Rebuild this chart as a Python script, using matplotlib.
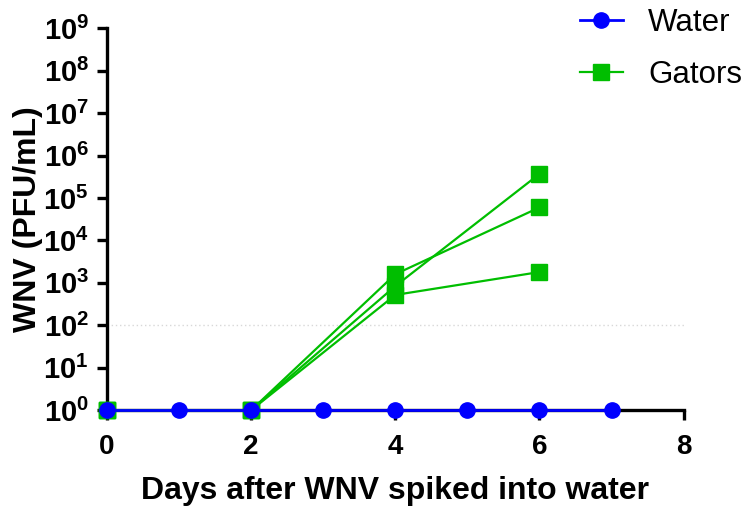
import numpy as np
import matplotlib
matplotlib.use("Agg")
import matplotlib.pyplot as plt

plt.rcParams['font.family'] = ['Liberation Sans', 'DejaVu Sans']
plt.rcParams['mathtext.fontset'] = 'custom'
plt.rcParams['mathtext.rm'] = 'Liberation Sans:bold'
plt.rcParams['mathtext.bf'] = 'Liberation Sans:bold'
plt.rcParams['mathtext.it'] = 'Liberation Sans:bold'

# data
water_days = [0, 1, 2, 3, 4, 5, 6, 7]
water_pfu = [1, 1, 1, 1, 1, 1, 1, 1]

gator_days = [0, 2, 4, 6]
gator_pfu = [
    [1, 1, 1.6e3, 6.0e4],
    [1, 1, 8.4e2, 3.7e5],
    [1, 1, 5.2e2, 1.8e3],
]
detection_limit = 1e2

blue = '#0000FF'
green = '#00BE00'

fig = plt.figure(figsize=(7.48, 5.14), dpi=100)
ax = fig.add_axes([0.143, 0.202, 0.771, 0.743])

ax.axhline(detection_limit, color='#d8d8d8', lw=1, ls=(0, (1, 2)), zorder=1)

for i, g in enumerate(gator_pfu):
    ax.plot(gator_days, g, color=green, lw=1.6, marker='s', ms=11,
            mec=green, clip_on=False, zorder=3,
            label='Gators' if i == 0 else None)
ax.plot(water_days, water_pfu, color=blue, lw=2, marker='o', ms=11,
        mec=blue, clip_on=False, zorder=4, label='Water')

ax.set_yscale('log')
ax.set_ylim(1, 1e9)
ax.set_xlim(0, 8)
ax.set_xticks([0, 2, 4, 6, 8])
ax.set_yticks([10.0**k for k in range(10)])
ax.yaxis.set_minor_locator(matplotlib.ticker.NullLocator())
ax.set_yticklabels([r'$\mathbf{10^{%d}}$' % k for k in range(10)])

for s in ['top', 'right']:
    ax.spines[s].set_visible(False)
for s in ['left', 'bottom']:
    ax.spines[s].set_linewidth(2.4)
ax.tick_params(width=2.4, length=7, labelsize=20)
ax.tick_params(axis='y', labelsize=21, pad=6)
ax.tick_params(axis='x', pad=10)
for lab in ax.get_xticklabels():
    lab.set_fontweight('bold')

ax.set_xlabel('Days after WNV spiked into water', fontsize=23, fontweight='bold', labelpad=12)
ax.set_ylabel('WNV (PFU/mL)', fontsize=23, fontweight='bold', labelpad=0)

h, l = ax.get_legend_handles_labels()
order = [l.index('Water'), l.index('Gators')]
fig.legend([h[i] for i in order], [l[i] for i in order], loc='upper right',
           bbox_to_anchor=(1.03, 1.04), frameon=False, fontsize=22.5,
           handlelength=1.4, labelspacing=0.72, handletextpad=0.8)

fig.savefig('out.png', dpi=100)
